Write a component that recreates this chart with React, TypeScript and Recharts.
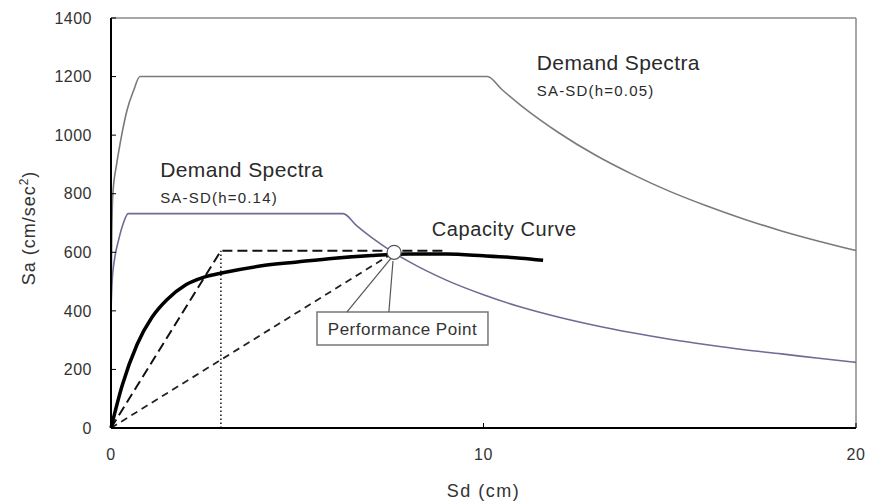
import { ComposedChart, Line, XAxis, YAxis, ReferenceLine, ReferenceDot, ReferenceArea } from "recharts";

const FONT = "'Liberation Sans', Arial, sans-serif";

// Demand spectrum, h = 0.05
const sd05 = [0, 0.02, 0.05, 0.15, 0.25, 0.43, 0.6, 0.78, 10.1, 10.5, 11, 11.5, 12, 13, 14, 15, 16, 17, 18, 19, 20];
const sa05 = [400, 650, 800, 900, 975, 1085, 1150, 1200, 1200, 1155, 1102, 1054, 1010, 932, 866, 808, 758, 713, 673, 638, 606];

// Demand spectrum, h = 0.14
const sd14 = [0, 0.03, 0.1, 0.2, 0.32, 0.46, 6.23, 6.6, 7, 7.6, 8, 9, 10, 11, 12, 13, 14, 15, 16, 17, 18, 19, 20];
const sa14 = [400, 500, 580, 640, 695, 732, 732, 690, 650, 598, 568, 505, 455, 413, 379, 350, 325, 303, 284, 267, 253, 238, 224];

// Capacity curve
const sdCap = [0, 0.3, 0.7, 1.1, 1.5, 2, 2.5, 3, 4, 5, 6, 7, 8, 9, 10, 11, 11.6];
const saCap = [0, 145, 285, 378, 438, 488, 515, 530, 553, 567, 580, 589, 594, 594, 588, 580, 573];

// Bilinear idealisation, secant line, yield marker
const sdBilinear = [0, 2.95, 9.0];
const saBilinear = [0, 605, 605];
const sdSecant = [0, 7.6];
const saSecant = [0, 600];
const sdYield = [2.95, 2.95];
const saYield = [0, 605];

const perfPoint = { x: 7.6, y: 600 };

const xTicks = [0, 10, 20];
const yTicks = [0, 200, 400, 600, 800, 1000, 1200, 1400];

const pts = (xs: number[], ys: number[]) => xs.map((x, i) => ({ x, y: ys[i] }));

// text annotations (anchor = left end of baseline)
const notes = [
  { x: 11.43, y: 1222, text: "Demand Spectra", size: 21, ls: 0.4 },
  { x: 11.43, y: 1134, text: "SA-SD(h=0.05)", size: 15, ls: 1.2 },
  { x: 1.32, y: 857, text: "Demand Spectra", size: 21, ls: 0.4 },
  { x: 1.32, y: 768, text: "SA-SD(h=0.14)", size: 15, ls: 1.2 },
  { x: 8.61, y: 656, text: "Capacity Curve", size: 20, ls: 0.6 },
];

const calloutBox = { x1: 5.53, x2: 10.12, y1: 283, y2: 396 };
const calloutLegs = [
  [{ x: 7.52, y: 580 }, { x: 6.33, y: 396 }],
  [{ x: 7.57, y: 570 }, { x: 7.46, y: 396 }],
];

const noteShape = (n: (typeof notes)[number]) => (p: any) => (
  <text x={p.cx} y={p.cy} fontSize={n.size} letterSpacing={n.ls} fill="#2a2a2a" fontFamily={FONT}>
    {n.text}
  </text>
);

export default function App() {
  return (
    <div style={{ width: 870, height: 501, background: "#fff" }}>
      <style>{"body{margin:0}"}</style>
      <ComposedChart width={870} height={501} margin={{ top: 18, right: 14, bottom: 43, left: 0 }}>
        <XAxis
          type="number"
          dataKey="x"
          domain={[0, 20]}
          ticks={xTicks}
          height={30}
          axisLine={{ stroke: "#000", strokeWidth: 2 }}
          tickLine={{ stroke: "#000" }}
          tickSize={-5}
          tickMargin={26}
          tick={{ fill: "#333", fontSize: 16, fontFamily: FONT, letterSpacing: 0.5 }}
          label={{
            content: (p: any) => (
              <text
                x={p.viewBox.x + p.viewBox.width / 2}
                y={497}
                textAnchor="middle"
                fontSize={18}
                letterSpacing={1.5}
                fill="#333"
                fontFamily={FONT}
              >
                Sd (cm)
              </text>
            ),
          }}
        />
        <YAxis
          type="number"
          dataKey="y"
          domain={[0, 1400]}
          ticks={yTicks}
          width={111}
          axisLine={{ stroke: "#000", strokeWidth: 2 }}
          tickLine={{ stroke: "#000" }}
          tickSize={-5}
          tickMargin={24}
          tick={{ fill: "#333", fontSize: 16, fontFamily: FONT, letterSpacing: 0.5 }}
          label={{
            content: () => (
              <text
                x={35}
                y={228}
                transform="rotate(-90 35 228)"
                textAnchor="middle"
                fontSize={18}
                letterSpacing={1}
                fill="#333"
                fontFamily={FONT}
              >
                Sa (cm/sec<tspan dy={-7} fontSize={12}>2</tspan>
                <tspan dy={7}>)</tspan>
              </text>
            ),
          }}
        />

        {/* frame */}
        <ReferenceLine y={1400} stroke="#8a8a8a" strokeWidth={1.5} />
        <ReferenceLine x={20} stroke="#8a8a8a" strokeWidth={1.5} />

        <Line data={pts(sd05, sa05)} dataKey="y" type="monotone" stroke="#7a7a7a" strokeWidth={1.6} dot={false} isAnimationActive={false} />
        <Line data={pts(sd14, sa14)} dataKey="y" type="monotone" stroke="#6c6c94" strokeWidth={1.6} dot={false} isAnimationActive={false} />
        <Line data={pts(sdYield, saYield)} dataKey="y" type="linear" stroke="#111" strokeWidth={1.5} strokeDasharray="1.5 2.5" dot={false} isAnimationActive={false} />
        <Line data={pts(sdSecant, saSecant)} dataKey="y" type="linear" stroke="#222" strokeWidth={1.8} strokeDasharray="7 5" dot={false} isAnimationActive={false} />
        <Line data={pts(sdBilinear, saBilinear)} dataKey="y" type="linear" stroke="#111" strokeWidth={2} strokeDasharray="10 5" dot={false} isAnimationActive={false} />
        <Line data={pts(sdCap, saCap)} dataKey="y" type="monotone" stroke="#000" strokeWidth={3.5} dot={false} isAnimationActive={false} />

        {/* performance point callout */}
        {calloutLegs.map((seg, i) => (
          <ReferenceLine key={i} segment={seg} stroke="#555" strokeWidth={1.2} />
        ))}
        <ReferenceArea
          x1={calloutBox.x1}
          x2={calloutBox.x2}
          y1={calloutBox.y1}
          y2={calloutBox.y2}
          fill="#fff"
          fillOpacity={1}
          stroke="#777"
          strokeWidth={1.5}
          label={{ value: "Performance Point", position: "center", fontSize: 17, fill: "#333", fontFamily: FONT, letterSpacing: 0.5 }}
        />
        <ReferenceDot x={perfPoint.x} y={perfPoint.y} r={7} fill="#fff" stroke="#555" strokeWidth={1.2} />

        {notes.map((n, i) => (
          <ReferenceDot key={i} x={n.x} y={n.y} r={0} shape={noteShape(n)} />
        ))}
      </ComposedChart>
    </div>
  );
}
